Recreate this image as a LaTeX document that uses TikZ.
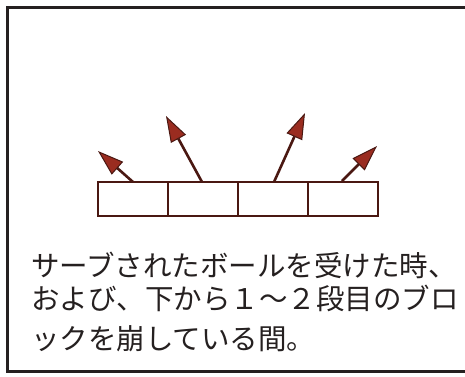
\documentclass[tikz,border=0pt]{standalone}
\usepackage{fontspec}
\newfontfamily\cjk{Noto Sans CJK JP}
\usetikzlibrary{arrows.meta}
\definecolor{ink}{HTML}{4A1812}
\definecolor{tipfill}{HTML}{9A2C20}
\definecolor{txt}{HTML}{252020}
\tikzset{
  blk/.style={draw=ink, line width=2.8pt, fill=white, minimum width=70pt, minimum height=34pt, inner sep=0pt},
  ray/.style={draw=ink, line width=2.6pt, -{Triangle[length=26pt,width=17pt,fill=tipfill,line width=1pt]}},
  captext/.style={anchor=west, text=txt, inner sep=0pt, font=\cjk\fontsize{28.5pt}{30pt}\selectfont},
}
\begin{document}
\begin{tikzpicture}[x=1pt,y=-1pt]
\useasboundingbox (0,0) rectangle (465,376);
\fill[white] (0,0) rectangle (465,376);
\draw[line width=2.5pt, draw=txt] (7.5,7.5) rectangle (467,371.5);
\node[blk] (b1) at (133,199) {};
\node[blk] (b2) at (203,199) {};
\node[blk] (b3) at (273,199) {};
\node[blk] (b4) at (343,199) {};
\coordinate (s1) at (133,182);
\coordinate (s2) at (202,182);
\coordinate (s3) at (274,182);
\coordinate (s4) at (342,181);
\coordinate (t1) at (98,151);
\coordinate (t2) at (166,116);
\coordinate (t3) at (305,113);
\coordinate (t4) at (377,146);
\draw[ray] (s1) -- (t1);
\draw[ray] (s2) -- (t2);
\draw[ray] (s3) -- (t3);
\draw[ray] (s4) -- (t4);
\node[captext] (l1) at (31,265) {サーブされたボールを受けた時、};
\node[captext] (l2) at (31,298) {および、下から１～２段目のブロ};
\node[captext] (l3) at (31,339) {ックを崩している間。};
\end{tikzpicture}
\end{document}
